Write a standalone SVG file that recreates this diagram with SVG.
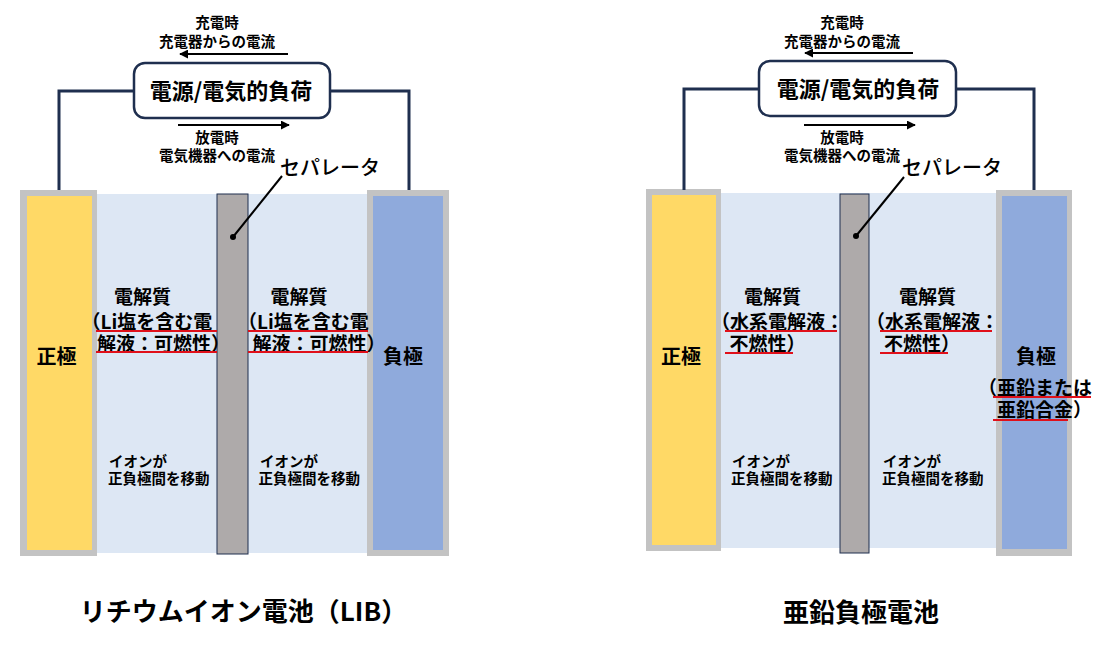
<svg xmlns="http://www.w3.org/2000/svg" width="1109" height="648" viewBox="0 0 1109 648">
<defs>
<style>
text{font-family:"Noto Sans CJK JP","Noto Sans",sans-serif;fill:#000;}
.s{font-size:14.5px;font-weight:bold;}
.el{font-size:19px;font-weight:bold;}
.ele{font-size:20px;font-weight:bold;}
.box{fill:#fff;stroke:#1f2f4f;stroke-width:2.5;}
.wire{fill:none;stroke:#1f2f4f;stroke-width:3;}
.arr{stroke:#000;stroke-width:2;fill:none;marker-end:url(#ah);}
.red{stroke:#e0101a;stroke-width:2;}
.gray{fill:#c3c3c3;}
.yel{fill:#ffd966;}
.blu{fill:#8faadc;}
.lb{fill:#dde7f4;}
.sep{fill:#aeaaaa;stroke:#1f2f4f;stroke-width:1;}
.lead{stroke:#000;stroke-width:2;}
.ttl{font-size:26px;font-weight:bold;}
.sp{font-size:20px;font-weight:500;}
.bt{font-size:22px;font-weight:bold;}
</style>
<marker id="ah" viewBox="0 0 10 10" refX="9" refY="5" markerWidth="4.5" markerHeight="4.5" orient="auto"><path d="M0,0 L10,5 L0,10 z" fill="#000"/></marker>
</defs>
<rect width="1109" height="648" fill="#fff"/>

<!-- LEFT: LIB -->
<g id="lib-electrolyte"><rect class="lb" x="97" y="194" width="270" height="359"/></g>
<g id="lib-cathode">
<rect class="gray" x="20" y="190" width="77" height="366"/>
<rect class="yel" x="27" y="196" width="65" height="354"/>
<text class="ele" x="56.5" y="364" text-anchor="middle">正極</text>
</g>
<g id="lib-anode">
<rect class="gray" x="367" y="190" width="82" height="366"/>
<rect class="blu" x="373" y="196" width="70" height="354"/>
<text class="ele" x="403" y="364" text-anchor="middle">負極</text>
</g>
<g id="lib-separator"><rect class="sep" x="217" y="194" width="31" height="360"/></g>
<g id="lib-load">
<rect class="box" x="134" y="63" width="196" height="55" rx="11"/>
<text class="bt" x="231" y="98.5" text-anchor="middle">電源/電気的負荷</text>
</g>
<g id="lib-labels">
<text class="s" x="217" y="28" text-anchor="middle">充電時</text>
<text class="s" x="217" y="46.5" text-anchor="middle">充電器からの電流</text>
<text class="s" x="217" y="143" text-anchor="middle">放電時</text>
<text class="s" x="217" y="160.5" text-anchor="middle">電気機器への電流</text>
<text class="sp" x="280" y="175">セパレータ</text>
<text class="el" x="142.5" y="303.5" text-anchor="middle">電解質</text>
<text class="el" x="81.5" y="328.5">（Li塩を含む電</text>
<text class="el" x="97" y="350.5">解液：可燃性）</text>
<text class="el" x="299" y="303.5" text-anchor="middle">電解質</text>
<text class="el" x="238" y="328.5">（Li塩を含む電</text>
<text class="el" x="252.5" y="350.5">解液：可燃性）</text>
<text class="s" x="109" y="466.5">イオンが</text>
<text class="s" x="108" y="484">正負極間を移動</text>
<text class="s" x="260" y="466.5">イオンが</text>
<text class="s" x="258.5" y="484">正負極間を移動</text>
<text class="ttl" x="243.5" y="621" text-anchor="middle">リチウムイオン電池（LIB）</text>
</g>

<!-- RIGHT: Zinc -->
<g id="zn-electrolyte"><rect class="lb" x="721" y="193" width="275" height="355"/></g>
<g id="zn-cathode">
<rect class="gray" x="646" y="189" width="75" height="362"/>
<rect class="yel" x="652" y="195" width="64" height="350"/>
<text class="ele" x="681" y="364" text-anchor="middle">正極</text>
</g>
<g id="zn-anode">
<rect class="gray" x="996" y="190" width="76" height="366"/>
<rect class="blu" x="1002" y="196" width="65" height="353"/>
<text class="ele" x="1036" y="364" text-anchor="middle">負極</text>
</g>
<g id="zn-separator"><rect class="sep" x="840" y="194" width="29" height="359"/></g>
<g id="zn-load">
<rect class="box" x="759" y="61" width="197" height="55" rx="11"/>
<text class="bt" x="858" y="96.5" text-anchor="middle">電源/電気的負荷</text>
</g>
<g id="zn-labels">
<text class="s" x="842" y="28" text-anchor="middle">充電時</text>
<text class="s" x="842" y="46.5" text-anchor="middle">充電器からの電流</text>
<text class="s" x="842" y="143" text-anchor="middle">放電時</text>
<text class="s" x="842" y="160.5" text-anchor="middle">電気機器への電流</text>
<text class="sp" x="902" y="175">セパレータ</text>
<text class="el" x="772.5" y="303.5" text-anchor="middle">電解質</text>
<text class="el" x="711" y="328.5">（水系電解液：</text>
<text class="el" x="729.5" y="350.5">不燃性）</text>
<text class="el" x="927.5" y="303.5" text-anchor="middle">電解質</text>
<text class="el" x="866" y="328.5">（水系電解液：</text>
<text class="el" x="884" y="350.5">不燃性）</text>
<text class="el" x="978" y="394.5">（亜鉛または</text>
<text class="el" x="997" y="417">亜鉛合金）</text>
<text class="s" x="732" y="466.5">イオンが</text>
<text class="s" x="731" y="484">正負極間を移動</text>
<text class="s" x="883" y="466.5">イオンが</text>
<text class="s" x="882" y="484">正負極間を移動</text>
<text class="ttl" x="861" y="622" text-anchor="middle">亜鉛負極電池</text>
</g>

<g id="connectors">
<path class="wire" d="M59,190 V91 H134"/>
<path class="wire" d="M330,91 H409 V190"/>
<path class="wire" d="M684,190 V89 H759"/>
<path class="wire" d="M956,89 H1034 V190"/>
<line class="arr" x1="288" y1="54" x2="180" y2="54"/>
<line class="arr" x1="178" y1="125" x2="289" y2="125"/>
<line class="arr" x1="913" y1="53" x2="805" y2="53"/>
<line class="arr" x1="804" y1="125" x2="915" y2="125"/>
<line class="lead" x1="233" y1="237" x2="282" y2="176"/>
<circle cx="233" cy="237" r="3" fill="#000"/>
<line class="lead" x1="856" y1="236" x2="904" y2="177"/>
<circle cx="856" cy="236" r="3" fill="#000"/>
<line class="red" x1="96" y1="331" x2="217" y2="331"/>
<line class="red" x1="96" y1="352" x2="217" y2="352"/>
<line class="red" x1="248" y1="331" x2="368" y2="331"/>
<line class="red" x1="248" y1="352" x2="368" y2="352"/>
<line class="red" x1="725" y1="331" x2="837" y2="331"/>
<line class="red" x1="725" y1="353" x2="793" y2="353"/>
<line class="red" x1="880" y1="331" x2="992" y2="331"/>
<line class="red" x1="880" y1="353" x2="948" y2="353"/>
<line class="red" x1="993" y1="397" x2="1091" y2="397"/>
<line class="red" x1="993" y1="420" x2="1068" y2="420"/>
</g>
</svg>
